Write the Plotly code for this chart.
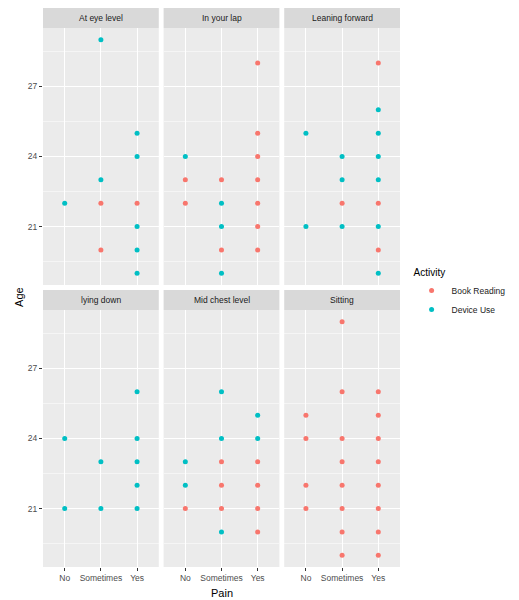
import plotly.graph_objects as go

# ---- data ----
pain_levels = ["No", "Sometimes", "Yes"]
facets = ["At eye level", "In your lap", "Leaning forward",
          "lying down", "Mid chest level", "Sitting"]

# ages per facet, listed per pain level [No, Sometimes, Yes]
book_reading_ages = {
    "At eye level":    [[], [22, 20], [22]],
    "In your lap":     [[23, 22], [23, 20], [28, 25, 24, 23, 22, 21, 20]],
    "Leaning forward": [[], [22], [28, 22, 20]],
    "lying down":      [[], [], []],
    "Mid chest level": [[21], [23, 22, 21], [23, 22, 21, 20]],
    "Sitting":         [[25, 24, 22, 21], [29, 26, 24, 23, 22, 21, 20, 19],
                        [26, 25, 24, 23, 22, 21, 20, 19]],
}
device_use_ages = {
    "At eye level":    [[22], [29, 23], [25, 24, 21, 20, 19]],
    "In your lap":     [[24], [22, 21, 19], []],
    "Leaning forward": [[25, 21], [24, 23, 21], [26, 25, 24, 23, 21, 19]],
    "lying down":      [[24, 21], [23, 21], [26, 24, 23, 22, 21]],
    "Mid chest level": [[23, 22], [26, 24, 20], [25, 24]],
    "Sitting":         [[], [], []],
}
y_ticks = [21, 24, 27]
y_minor = [19.5, 22.5, 25.5, 28.5]

activities = [("Book Reading", book_reading_ages, "#F8766D"),
              ("Device Use", device_use_ages, "#00BFC4")]

# ---- layout geometry ----
W, H = 519, 600
ml, mr, mt, mb = 43, 106, 8, 33
pw, ph = W - ml - mr, H - mt - mb

def px_x(x):
    return (x - ml) / pw

def px_y(y):
    return (H - mb - y) / ph

col_px = [(43, 163), (168, 288), (293, 413)]
row_px = [  # (strip top, panel top, panel bottom)
    (8, 28, 285),
    (290, 310, 567),
]
FONT = "Liberation Sans, Arial, sans-serif"

fig = go.Figure()
layout = {}
shapes = []
annotations = []

for i, facet in enumerate(facets):
    r, c = divmod(i, 3)
    x0, x1 = col_px[c]
    st, pt, pb = row_px[r]
    ax = "" if i == 0 else str(i + 1)
    xd = [px_x(x0), px_x(x1)]
    yd = [px_y(pb), px_y(pt)]
    bottom = (r == 1)
    left = (c == 0)
    layout["xaxis" + ax] = dict(
        domain=xd, anchor="y" + ax, type="category",
        categoryorder="array", categoryarray=pain_levels,
        range=[-0.6, 2.6], showgrid=True, gridcolor="white", gridwidth=1.1,
        zeroline=False, showline=False, fixedrange=True,
        showticklabels=bottom, ticks="outside" if bottom else "",
        ticklen=3, tickwidth=1, tickcolor="#333333",
        tickfont=dict(size=8.5, color="#4D4D4D", family=FONT),
    )
    layout["yaxis" + ax] = dict(
        domain=yd, anchor="x" + ax, range=[18.5, 29.5],
        tickmode="array", tickvals=y_ticks,
        showgrid=True, gridcolor="white", gridwidth=1.1,
        minor=dict(tickvals=y_minor, showgrid=True, gridcolor="white",
                   gridwidth=0.5, ticks=""),
        zeroline=False, showline=False, fixedrange=True,
        showticklabels=left, ticks="outside" if left else "",
        ticklen=3, tickwidth=1, tickcolor="#333333",
        tickfont=dict(size=8.5, color="#4D4D4D", family=FONT),
    )
    # strip
    shapes.append(dict(type="rect", xref="paper", yref="paper",
                       x0=xd[0], x1=xd[1], y0=px_y(pt), y1=px_y(st),
                       fillcolor="#D9D9D9", line=dict(width=0), layer="below"))
    annotations.append(dict(text=facet, xref="paper", yref="paper",
                            x=(xd[0] + xd[1]) / 2, y=(px_y(pt) + px_y(st)) / 2,
                            showarrow=False, xanchor="center", yanchor="middle",
                            font=dict(size=8.5, color="#1A1A1A", family=FONT)))
    for name, ages, color in activities:
        xs, ys = [], []
        for p, lvl in enumerate(pain_levels):
            for a in ages[facet][p]:
                xs.append(lvl)
                ys.append(a)
        fig.add_trace(go.Scatter(
            x=xs, y=ys, mode="markers", name=name, legendgroup=name,
            showlegend=(i == 0), xaxis="x" + ax, yaxis="y" + ax,
            marker=dict(color=color, size=5, line=dict(width=0)),
            hoverinfo="skip"))

annotations.append(dict(text="Age", xref="paper", yref="paper",
                        x=px_x(18), y=px_y(297), textangle=-90,
                        showarrow=False, xanchor="center", yanchor="middle",
                        font=dict(size=11, color="black", family=FONT)))
annotations.append(dict(text="Pain", xref="paper", yref="paper",
                        x=px_x(228), y=px_y(593),
                        showarrow=False, xanchor="center", yanchor="middle",
                        font=dict(size=11, color="black", family=FONT)))

fig.update_layout(
    width=W, height=H,
    margin=dict(l=ml, r=mr, t=mt, b=mb),
    paper_bgcolor="white", plot_bgcolor="#EBEBEB",
    shapes=shapes, annotations=annotations,
    showlegend=True,
    legend=dict(title=dict(text="Activity", font=dict(size=10, color="black", family=FONT)),
                font=dict(size=8.5, color="#1A1A1A", family=FONT),
                x=px_x(425), xanchor="left", y=px_y(263), yanchor="top",
                bgcolor="rgba(0,0,0,0)", tracegroupgap=0, itemwidth=30),
    font=dict(family=FONT),
    hovermode=False,
    **layout,
)

fig.write_html("out.html",
               config={"displayModeBar": False, "staticPlot": True},
               post_script="document.body.style.margin='0px';"
                           "document.body.style.overflow='hidden';")
